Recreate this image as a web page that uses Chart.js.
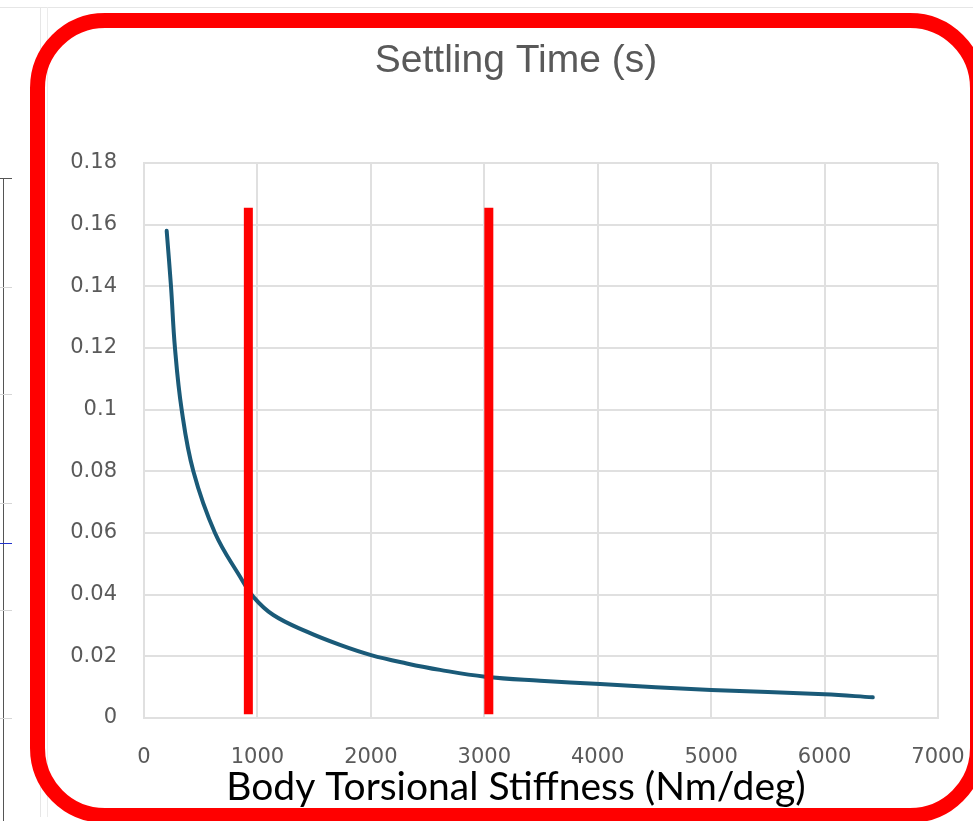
<!DOCTYPE html>
<html>
<head>
<meta charset="utf-8">
<title>Settling Time</title>
<script src="https://cdn.jsdelivr.net/npm/chart.js@4.4.1/dist/chart.umd.min.js"></script>
<style>
  html, body { margin: 0; padding: 0; background: #fff; }
  #wrap { position: relative; width: 973px; height: 821px; overflow: hidden; }
  #myChart { position: absolute; left: 0; top: 0; }
  .frame {
    position: absolute; left: 30px; top: 13px; width: 955px; height: 810px;
    box-sizing: border-box; border: 15px solid #ff0000; border-radius: 75px;
    pointer-events: none;
  }
  .ln { position: absolute; background: #d6d6d6; }
</style>
</head>
<body>
<div id="wrap">
  <!-- bits of the spreadsheet behind the chart -->
  <div class="ln" style="left:0;top:7px;width:973px;height:1px;background:#e6e6e6"></div>
  <div class="ln" style="left:40px;top:7px;width:1px;height:810px;background:#e6e6e6"></div>
  <div class="ln" style="left:47px;top:7px;width:1px;height:810px;background:#ececec"></div>
  <div class="ln" style="left:3px;top:178px;width:1px;height:643px;background:#555"></div>
  <div class="ln" style="left:0;top:178px;width:12px;height:1px;background:#555"></div>
  <div class="ln" style="left:0;top:287px;width:12px;height:1px"></div>
  <div class="ln" style="left:0;top:394px;width:12px;height:1px"></div>
  <div class="ln" style="left:0;top:503px;width:12px;height:1px"></div>
  <div class="ln" style="left:0;top:543px;width:12px;height:1px;background:#2233cc"></div>
  <div class="ln" style="left:0;top:610px;width:12px;height:1px"></div>
  <div class="ln" style="left:0;top:718px;width:12px;height:1px"></div>
  <canvas id="myChart" width="1032" height="821"></canvas>
  <div class="frame"></div>
</div>
<script>
// curve
var stiffness = [200, 238, 273, 332, 435, 626, 847, 964, 1140, 1435, 1728, 2002, 2316, 2610, 3007, 3492, 4021, 5000, 6000, 6425];
var settling = [0.158, 0.14, 0.12, 0.10, 0.08, 0.06, 0.0458, 0.0393, 0.0334, 0.028, 0.0237, 0.0204, 0.0177, 0.0156, 0.0134, 0.0121, 0.011, 0.0091, 0.0077, 0.0067];

// the two red marker lines
var markerX = [920, 3040];
var markerLow = 0.0012;
var markerHigh = 0.1655;

var xTicks = [0, 1000, 2000, 3000, 4000, 5000, 6000, 7000];
var yTicks = [0, 0.02, 0.04, 0.06, 0.08, 0.1, 0.12, 0.14, 0.16, 0.18];

var curve = stiffness.map(function (s, i) {
  return { x: s, y: settling[i] };
});

var datasets = [];
markerX.forEach(function (mx) {
  datasets.push({
    data: [{ x: mx, y: markerLow }, { x: mx, y: markerHigh }],
    borderColor: "#ff0000",
    borderWidth: 9,
    borderCapStyle: "butt",
    pointRadius: 0,
    order: 1,
  });
});
datasets.push({
  label: "Settling Time (s)",
  data: curve,
  borderColor: "#1a5a78",
  borderWidth: 4,
  borderCapStyle: "round",
  tension: 0.4,
  pointRadius: 0,
  order: 2,
});

var gridColor = "#e0e0e0";
var tickFont = { family: "DejaVu Sans", size: 21 };
var tickColor = "#5a5a5a";

var ctx = document.getElementById("myChart").getContext("2d");
var myChart = new Chart(ctx, {
  type: "line",
  data: { datasets: datasets },
  options: {
    responsive: false,
    animation: false,
    layout: { padding: 0 },
    plugins: {
      legend: { display: false },
      tooltip: { enabled: false },
      title: {
        display: true,
        text: "Settling Time (s)",
        color: "#595959",
        font: { family: "Liberation Sans", size: 39, weight: "normal" },
        padding: { top: 37.6, bottom: 78.6 },
      },
      subtitle: {
        display: true,
        position: "bottom",
        text: "Body Torsional Stiffness (Nm/deg)",
        color: "#000",
        font: { family: "Lato", size: 39, lineHeight: 1 },
        padding: { top: 3.5, bottom: 14.5 },
      },
    },
    scales: {
      x: {
        type: "linear",
        min: 0,
        max: 7000,
        afterBuildTicks: function (scale) {
          scale.ticks = xTicks.map(function (v) { return { value: v }; });
        },
        afterFit: function (scale) { scale.height = 46; },
        grid: { color: gridColor, lineWidth: 2, drawTicks: false },
        border: { color: gridColor, width: 2 },
        ticks: {
          font: tickFont,
          color: tickColor,
          padding: 27,
          maxRotation: 0,
          callback: function (v) { return String(v); },
        },
      },
      y: {
        type: "linear",
        min: 0,
        max: 0.18,
        afterBuildTicks: function (scale) {
          scale.ticks = yTicks.map(function (v) { return { value: v }; });
        },
        afterFit: function (scale) { scale.width = 144; },
        grid: { color: gridColor, lineWidth: 2, drawTicks: false },
        border: { color: gridColor, width: 2 },
        ticks: {
          font: tickFont,
          color: tickColor,
          padding: 27,
          callback: function (v) { return String(Math.round(v * 100) / 100); },
        },
      },
      // empty right-hand axis, only there to keep the plot area where it is
      yRight: {
        position: "right",
        afterFit: function (scale) { scale.width = 94; },
        grid: { display: false },
        border: { display: false },
        ticks: { display: false },
      },
    },
  },
});
</script>
</body>
</html>
